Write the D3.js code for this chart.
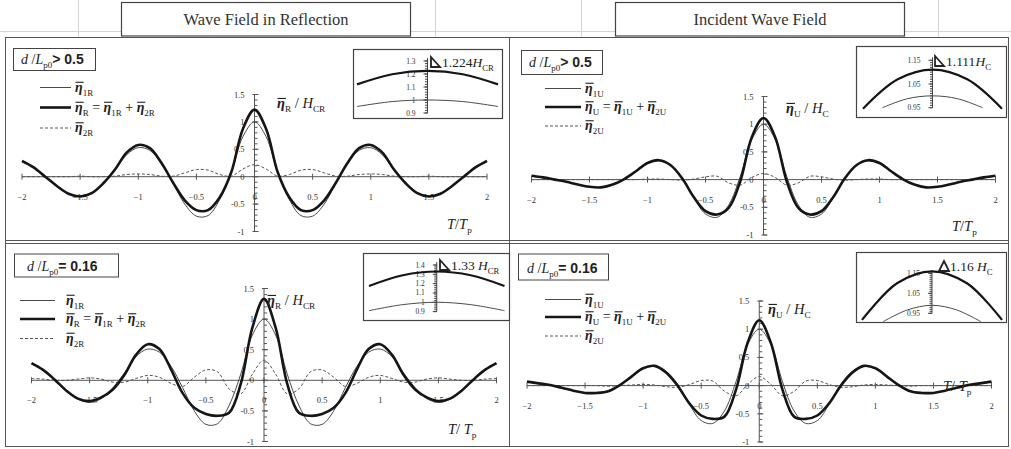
<!DOCTYPE html>
<html>
<head>
<meta charset="utf-8">
<script src="https://cdn.jsdelivr.net/npm/d3@7"></script>
<style>
body { margin: 0; background: #fff; }
text { font-family: "Liberation Serif", "Times New Roman", serif; fill: #222; }
</style>
</head>
<body>
<svg id="chart" width="1011" height="449"></svg>
<script>
// time lag T/Tp, shared by every panel
const tValues = [-2,-1.9,-1.8,-1.7,-1.6,-1.5,-1.4,-1.3,-1.2,-1.1,-1,-0.9,-0.8,-0.7,-0.6,-0.5,-0.4,-0.3,-0.2,-0.1,0,
  0.1,0.2,0.3,0.4,0.5,0.6,0.7,0.8,0.9,1,1.1,1.2,1.3,1.4,1.5,1.6,1.7,1.8,1.9,2];
const xTicks = [-2,-1.5,-1,-0.5,0,0.5,1,1.5,2];
const xTickLabels = ["\u22122","\u22121.5","\u22121","\u22120.5","0","0.5","1","1.5","2"];
const yTicks = [-1,-0.5,0,0.5,1,1.5];
const yTickLabels = ["-1","-0.5","0","0.5","1","1.5"];

// wave field in reflection, d/Lp0 > 0.5
const reflDeepFirst = [0.27,0.16,0.00,-0.17,-0.30,-0.35,-0.29,-0.12,0.12,0.40,0.53,0.48,0.24,-0.12,-0.50,-0.72,-0.71,-0.42,0.08,0.73,1.00,
  0.73,0.08,-0.42,-0.71,-0.72,-0.50,-0.12,0.24,0.48,0.53,0.40,0.12,-0.12,-0.29,-0.35,-0.30,-0.17,0.00,0.16,0.27];
const reflDeepTotal = [0.29,0.17,0.00,-0.17,-0.31,-0.36,-0.30,-0.12,0.13,0.44,0.58,0.52,0.25,-0.11,-0.43,-0.61,-0.61,-0.38,0.08,0.87,1.224,
  0.87,0.08,-0.38,-0.61,-0.61,-0.43,-0.11,0.25,0.52,0.58,0.44,0.13,-0.12,-0.30,-0.36,-0.31,-0.17,0.00,0.17,0.29];
const reflDeepSecond = [0.00,0.00,0.00,0.00,0.00,0.01,0.00,0.00,0.01,0.04,0.05,0.04,0.01,0.01,0.07,0.13,0.12,0.04,0.01,0.14,0.22,
  0.14,0.01,0.04,0.12,0.13,0.07,0.01,0.01,0.04,0.05,0.04,0.01,0.00,0.00,0.01,0.00,0.00,0.00,0.00,0.00];

// incident wave field, d/Lp0 > 0.5
const incDeepFirst = [0.06,0.03,0.00,-0.04,-0.09,-0.13,-0.14,-0.09,0.01,0.15,0.29,0.34,0.26,0.03,-0.33,-0.62,-0.68,-0.46,0.06,0.73,1.00,
  0.73,0.06,-0.46,-0.68,-0.62,-0.33,0.03,0.26,0.34,0.29,0.15,0.01,-0.09,-0.14,-0.13,-0.09,-0.04,0.00,0.03,0.06];
const incDeepTotal = [0.07,0.04,0.00,-0.04,-0.09,-0.13,-0.14,-0.09,0.01,0.15,0.30,0.35,0.26,0.02,-0.32,-0.57,-0.63,-0.51,-0.03,0.77,1.111,
  0.77,-0.03,-0.51,-0.63,-0.57,-0.32,0.02,0.26,0.35,0.30,0.15,0.01,-0.09,-0.14,-0.13,-0.09,-0.04,0.00,0.04,0.07];
const incDeepSecond = [0.00,0.00,0.00,0.00,0.00,0.00,0.00,0.00,0.00,0.00,0.01,0.01,0.00,-0.01,0.01,0.05,0.06,-0.06,-0.10,0.04,0.11,
  0.04,-0.10,-0.06,0.06,0.05,0.01,-0.01,0.00,0.01,0.01,0.00,0.00,0.00,0.00,0.00,0.00,0.00,0.00,0.00,0.00];

// wave field in reflection, d/Lp0 = 0.16
const reflShallowFirst = [0.27,0.16,0.01,-0.17,-0.31,-0.36,-0.30,-0.12,0.12,0.39,0.51,0.46,0.23,-0.12,-0.50,-0.72,-0.71,-0.41,0.10,0.74,1.00,
  0.74,0.10,-0.41,-0.71,-0.72,-0.50,-0.12,0.23,0.46,0.51,0.39,0.12,-0.12,-0.30,-0.36,-0.31,-0.17,0.01,0.16,0.27];
const reflShallowTotal = [0.28,0.17,0.01,-0.17,-0.30,-0.34,-0.28,-0.15,0.09,0.42,0.59,0.51,0.18,-0.21,-0.45,-0.55,-0.58,-0.53,-0.06,0.86,1.33,
  0.86,-0.06,-0.53,-0.58,-0.55,-0.45,-0.21,0.18,0.51,0.59,0.42,0.09,-0.15,-0.28,-0.34,-0.30,-0.17,0.01,0.17,0.28];
const reflShallowSecond = [0.03,0.02,0.00,0.00,0.02,0.04,0.02,-0.03,-0.03,0.03,0.08,0.05,-0.05,-0.10,0.05,0.17,0.14,-0.14,-0.22,0.10,0.33,
  0.10,-0.22,-0.14,0.14,0.17,0.05,-0.10,-0.05,0.05,0.08,0.03,-0.03,-0.03,0.02,0.04,0.02,0.00,0.00,0.02,0.03];

// incident wave field, d/Lp0 = 0.16
const incShallowFirst = [0.06,0.04,0.01,-0.04,-0.09,-0.13,-0.13,-0.09,0.01,0.15,0.29,0.34,0.25,0.02,-0.34,-0.62,-0.67,-0.45,0.07,0.73,1.00,
  0.73,0.07,-0.45,-0.67,-0.62,-0.34,0.02,0.25,0.34,0.29,0.15,0.01,-0.09,-0.13,-0.13,-0.09,-0.04,0.01,0.04,0.06];
const incShallowTotal = [0.07,0.04,0.01,-0.04,-0.09,-0.13,-0.13,-0.10,0.01,0.16,0.31,0.35,0.23,-0.01,-0.32,-0.53,-0.59,-0.55,-0.07,0.76,1.16,
  0.76,-0.07,-0.55,-0.59,-0.53,-0.32,-0.01,0.23,0.35,0.31,0.16,0.01,-0.10,-0.13,-0.13,-0.09,-0.04,0.01,0.04,0.07];
const incShallowSecond = [0.00,0.00,0.00,0.00,0.00,0.00,0.00,-0.01,0.00,0.01,0.02,0.01,-0.02,-0.03,0.02,0.09,0.08,-0.10,-0.18,0.02,0.16,
  0.02,-0.18,-0.10,0.08,0.09,0.02,-0.03,-0.02,0.01,0.02,0.01,0.00,-0.01,0.00,0.00,0.00,0.00,0.00,0.00,0.00];

// zoomed crest insets (relative lag around T = 0)
const insetWide = [-1,-0.5,0,0.5,1];
const insetReflDeepTotal = [1.12,1.198,1.224,1.198,1.12];
const insetReflDeepFirst = [0.95,0.988,1.0,0.988,0.95];
const insetIncDeepX = [-0.72,-0.36,0,0.36,0.72];
const insetIncDeepTotal = [0.946,1.07,1.111,1.07,0.946];
const insetIncDeepFirst = [0.95,0.988,1.0,0.988,0.95];
const insetReflShallowTotal = [1.175,1.29,1.33,1.29,1.175];
const insetReflShallowFirst = [0.91,0.975,1.0,0.975,0.91];
const insetIncShallowX = [-0.7,-0.35,0,0.35,0.7];
const insetIncShallowTotal = [0.917,1.10,1.16,1.10,0.917];
const insetIncShallowFirst = [0.908,0.967,0.99,0.967,0.908];
const insetTicksRefl = [0.9,1,1.1,1.2,1.3];
const insetTicksReflShallow = [0.9,1,1.1,1.2,1.3,1.4];
const insetTicksInc = [0.95,1.05,1.15];

const svg = d3.select("#chart");

// builds a text made of italic / bold / overlined / subscript pieces
function richText(g, x, y, size, parts, anchor) {
  const t = g.append("text").attr("x", x).attr("y", y).style("font-size", size + "px")
    .attr("text-anchor", anchor || "start");
  let shift = 0, idx = 0;
  const bars = [];
  parts.forEach(p => {
    const s = t.append("tspan").text(p.t);
    const target = p.sub ? size * 0.3 : 0;
    if (target !== shift) { s.attr("dy", target - shift); shift = target; }
    if (p.sub) s.style("font-size", (size * 0.64) + "px");
    if (p.it) s.style("font-style", "italic");
    if (p.b) s.style("font-weight", "bold");
    if (p.eta) { s.style("font-style", "italic").style("font-weight", "bold"); bars.push(idx); }
    if (p.fam) s.style("font-family", p.fam);
    idx += p.t.length;
  });
  // overline bars drawn by hand, just above the eta
  bars.forEach(i => {
    const e = t.node().getExtentOfChar(i);
    g.append("line").attr("x1", e.x + 0.5).attr("x2", e.x + e.width + 1)
      .attr("y1", y - size * 0.66).attr("y2", y - size * 0.66)
      .attr("stroke", "#222").attr("stroke-width", 1.1);
  });
  return t;
}
const eta = s => [{t: "\u03b7", eta: 1}, {t: s, sub: 1}];

// spreadsheet cell lines behind the titles
const gridG = svg.append("g").attr("stroke", "#d4d4d4").attr("stroke-width", 1);
gridG.append("line").attr("x1", 0).attr("x2", 1011).attr("y1", 31.5).attr("y2", 31.5);
[78.5, 435.5, 581.5, 938.5].forEach(x =>
  gridG.append("line").attr("x1", x).attr("x2", x).attr("y1", 0).attr("y2", 37));

// titles
[["Wave Field in Reflection", 121], ["Incident Wave Field", 615]].forEach(([label, x]) => {
  svg.append("rect").attr("x", x + 0.5).attr("y", 2.5).attr("width", 289).attr("height", 33.5)
    .attr("fill", "#fff").attr("stroke", "#444").attr("stroke-width", 1.2);
  svg.append("text").attr("x", x + 145).attr("y", 25).attr("text-anchor", "middle")
    .style("font-size", "16.5px").style("fill", "#333").text(label);
});

// panel frames
const frame = svg.append("g").attr("fill", "none").attr("stroke", "#555").attr("stroke-width", 1);
frame.append("rect").attr("x", 5.5).attr("y", 37.5).attr("width", 1003).attr("height", 409);
frame.append("line").attr("x1", 509.5).attr("x2", 509.5).attr("y1", 37.5).attr("y2", 446.5);
frame.append("line").attr("x1", 5.5).attr("x2", 1008.5).attr("y1", 240.5).attr("y2", 240.5);
frame.append("line").attr("x1", 5.5).attr("x2", 1008.5).attr("y1", 243.5).attr("y2", 243.5);

const condFont = "Liberation Sans Narrow, Liberation Sans";
const panels = [
  { xr: [22, 487], yr: [231.5, 94.5], first: reflDeepFirst, total: reflDeepTotal, second: reflDeepSecond,
    k: "R", h: "CR", cond: [{t: "d", it: 1}, {t: " /"}, {t: "L", it: 1}, {t: "p0", sub: 1}, {t: "> 0.5", b: 1, fam: condFont}],
    condBox: [13, 48.5, 82, 22], condText: [21, 64],
    leg: [40, 71, 75, [87.5, 107.5, 128]], yLab: [277, 108], tLab: [447, 229], tSpace: "",
    inset: { box: [353, 49, 149, 69], xr: [357, 498], yd: [0.9, 1.3], yr: [113, 61], ticks: insetTicksRefl, minor: 20,
      tot: [insetWide, insetReflDeepTotal], fir: [insetWide, insetReflDeepFirst],
      note: "1.224", tri: "right", noteX: 442, noteY: 67, sp: "" } },
  { xr: [531.5, 995.5], yr: [235, 96.5], first: incDeepFirst, total: incDeepTotal, second: incDeepSecond,
    k: "U", h: "C", cond: [{t: "d", it: 1}, {t: " /"}, {t: "L", it: 1}, {t: "p0", sub: 1}, {t: "> 0.5", b: 1, fam: condFont}],
    condBox: [521, 50.5, 81, 24], condText: [529, 67],
    leg: [545, 581, 585, [88.5, 107, 126]], yLab: [786, 113], tLab: [952, 231], tSpace: "",
    inset: { box: [856, 46, 150, 71], xr: [863, 1002], yd: [0.95, 1.15], yr: [107.7, 60.3], ticks: insetTicksInc, minor: 20,
      tot: [insetWide, insetIncDeepTotal], fir: [insetIncDeepX, insetIncDeepFirst],
      note: "1.111", tri: "right", noteX: 946, noteY: 66, sp: "" } },
  { xr: [31.5, 496.5], yr: [441.5, 288.5], first: reflShallowFirst, total: reflShallowTotal, second: reflShallowSecond,
    k: "R", h: "CR", cond: [{t: "d", it: 1}, {t: " /"}, {t: "L", it: 1}, {t: "p0", sub: 1}, {t: "= 0.16", b: 1, fam: condFont}],
    condBox: [14, 254, 104, 23], condText: [27, 271],
    leg: [20, 55, 66, [300.5, 319, 338.5]], yLab: [267, 305], tLab: [448, 434], tSpace: " ",
    inset: { box: [363, 253, 146, 67], xr: [369, 504.5], yd: [0.9, 1.4], yr: [311.6, 265], ticks: insetTicksReflShallow, minor: 25,
      tot: [insetWide, insetReflShallowTotal], fir: [insetWide, insetReflShallowFirst],
      note: "1.33", tri: "right", noteX: 451, noteY: 270, sp: " " } },
  { xr: [527, 991.5], yr: [442, 301], first: incShallowFirst, total: incShallowTotal, second: incShallowSecond,
    k: "U", h: "C", cond: [{t: "d", it: 1}, {t: " /"}, {t: "L", it: 1}, {t: "p0", sub: 1}, {t: "= 0.16", b: 1, fam: condFont}],
    condBox: [518, 254, 90, 26], condText: [527, 273],
    leg: [545, 581, 585, [299.5, 317, 336]], yLab: [768, 314], tLab: [943, 391], tSpace: " ",
    inset: { box: [856, 252, 150, 70], xr: [862, 1002], yd: [0.95, 1.15], yr: [313.3, 273.3], ticks: insetTicksInc, minor: 20,
      tot: [insetWide, insetIncShallowTotal], fir: [insetIncShallowX, insetIncShallowFirst],
      note: "1.16", tri: "up", noteX: 950, noteY: 271, sp: " " } }
];

const styles = {
  total: { w: 2.6, c: "#151515", dash: null },
  first: { w: 1, c: "#4a4a4a", dash: null },
  second: { w: 1, c: "#555", dash: "3,2" }
};

panels.forEach(p => {
  const g = svg.append("g");
  const x = d3.scaleLinear().domain([-2, 2]).range(p.xr);
  const y = d3.scaleLinear().domain([-1, 1.5]).range(p.yr);
  const x0 = x(0), y0 = y(0);

  // x axis through zero
  const ax = g.append("g").attr("stroke", "#555").attr("stroke-width", 1);
  ax.append("line").attr("x1", x(-2)).attr("x2", x(2)).attr("y1", y0).attr("y2", y0);
  xTicks.forEach(v => ax.append("line").attr("x1", x(v)).attr("x2", x(v)).attr("y1", y0 - 3).attr("y2", y0 + 3));
  // y axis through zero, with minor ticks
  ax.append("line").attr("x1", x0).attr("x2", x0).attr("y1", y(1.5)).attr("y2", y(-1));
  y.ticks(25).forEach(v => ax.append("line").attr("x1", x0).attr("x2", x0 + 3).attr("y1", y(v)).attr("y2", y(v)));
  yTicks.forEach(v => ax.append("line").attr("x1", x0 - 2).attr("x2", x0 + 4).attr("y1", y(v)).attr("y2", y(v)));

  xTicks.forEach((v, i) => g.append("text").attr("x", x(v)).attr("y", y0 + 23).attr("text-anchor", "middle")
    .style("font-size", "8.5px").style("fill", "#333").text(xTickLabels[i]));
  yTicks.forEach((v, i) => g.append("text").attr("x", x0 - 10).attr("y", y(v) + 3).attr("text-anchor", "end")
    .style("font-size", "8.5px").style("fill", "#333").text(yTickLabels[i]));

  // curves
  const line = d3.line().x(d => x(d[0])).y(d => y(d[1])).curve(d3.curveCatmullRom.alpha(0.5));
  ["second", "first", "total"].forEach(key => {
    const st = styles[key];
    g.append("path").datum(tValues.map((t, i) => [t, p[key][i]]))
      .attr("d", line).attr("fill", "none").attr("stroke", st.c).attr("stroke-width", st.w)
      .attr("stroke-dasharray", st.dash).attr("stroke-linejoin", "round");
  });

  // condition box
  g.append("rect").attr("x", p.condBox[0] + 0.5).attr("y", p.condBox[1]).attr("width", p.condBox[2]).attr("height", p.condBox[3])
    .attr("fill", "#fff").attr("stroke", "#444").attr("stroke-width", 1);
  richText(g, p.condText[0], p.condText[1], 14, p.cond);

  // legend
  const [lx0, lx1, tx, ly] = p.leg;
  [["first", eta("1" + p.k)],
   ["total", [...eta(p.k), {t: " = "}, ...eta("1" + p.k), {t: " + "}, ...eta("2" + p.k)]],
   ["second", eta("2" + p.k)]].forEach(([key, parts], i) => {
    const st = styles[key];
    g.append("line").attr("x1", lx0).attr("x2", lx1).attr("y1", ly[i]).attr("y2", ly[i])
      .attr("stroke", st.c).attr("stroke-width", st.w).attr("stroke-dasharray", st.dash);
    richText(g, tx, ly[i] + 4, 14, parts);
  });

  // axis titles
  richText(g, p.yLab[0], p.yLab[1], 14.5, [...eta(p.k), {t: " / "}, {t: "H", it: 1}, {t: p.h, sub: 1}]);
  richText(g, p.tLab[0], p.tLab[1], 14.5, [{t: "T", it: 1}, {t: "/" + p.tSpace}, {t: "T", it: 1}, {t: "p", sub: 1}]);

  // crest inset
  const ins = p.inset;
  const ig = g.append("g");
  ig.append("rect").attr("x", ins.box[0] + 0.5).attr("y", ins.box[1] + 0.5).attr("width", ins.box[2]).attr("height", ins.box[3])
    .attr("fill", "#fff").attr("stroke", "#444").attr("stroke-width", 1.2);
  const ix = d3.scaleLinear().domain([-1, 1]).range(ins.xr);
  const iy = d3.scaleLinear().domain(ins.yd).range(ins.yr);
  const iax = ix(0);
  const iaxis = ig.append("g").attr("stroke", "#444").attr("stroke-width", 1);
  iaxis.append("line").attr("x1", iax).attr("x2", iax).attr("y1", iy(ins.yd[1]) - 3).attr("y2", iy(ins.yd[0]));
  iy.ticks(ins.minor).forEach(v => iaxis.append("line").attr("x1", iax - 2.5).attr("x2", iax).attr("y1", iy(v)).attr("y2", iy(v)));
  ins.ticks.forEach(v => {
    iaxis.append("line").attr("x1", iax - 4).attr("x2", iax).attr("y1", iy(v)).attr("y2", iy(v));
    ig.append("text").attr("x", iax - 12).attr("y", iy(v) + 2.5).attr("text-anchor", "end")
      .style("font-size", "7.5px").style("fill", "#333").text(d3.format("~g")(v));
  });
  const iline = d3.line().x(d => ix(d[0])).y(d => iy(d[1])).curve(d3.curveCatmullRom.alpha(0.5));
  [["fir", styles.first], ["tot", styles.total]].forEach(([key, st]) => {
    const [xs, vs] = ins[key];
    ig.append("path").datum(xs.map((v, i) => [v, vs[i]])).attr("d", iline)
      .attr("fill", "none").attr("stroke", st.c).attr("stroke-width", key === "tot" ? 2.2 : 1);
  });
  // peak marker and value
  const ty1 = ins.noteY, ty0 = ins.noteY - 10, tx0 = ins.noteX - 11;
  const tri = ins.tri === "up"
    ? `M${tx0},${ty1} L${tx0 + 5},${ty0} L${tx0 + 10},${ty1} Z`
    : `M${tx0},${ty0} L${tx0},${ty1} L${tx0 + 9},${ty1} Z`;
  ig.append("path").attr("d", tri).attr("fill", "none").attr("stroke", "#222").attr("stroke-width", 1.8);
  richText(ig, ins.noteX, ins.noteY, 13.5, [{t: ins.note + ins.sp}, {t: "H", it: 1}, {t: p.h, sub: 1}]);
});
</script>
</body>
</html>
